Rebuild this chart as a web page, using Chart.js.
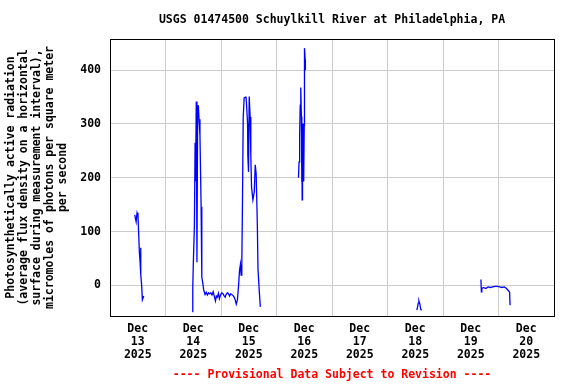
<!DOCTYPE html>
<html lang="en">

<head>
    <meta charset="UTF-8">
    <title>USGS 01474500 Schuylkill River at Philadelphia, PA</title>
    <script src="https://cdn.jsdelivr.net/npm/chart.js"></script>
    <style>
        html, body { margin: 0; padding: 0; background: #fff; }
        #wrap { width: 576px; height: 384px; }
    </style>
</head>

<body>
    <div id="wrap">
        <canvas id="grafico"></canvas>
    </div>

<script>

    // hours since Dec 13 2025 00:00, and PAR values
    var seg1Hours = [10.7, 11.0, 11.3, 11.7, 12.1, 12.7, 13.0, 13.2, 13.4, 13.7, 14.0, 14.6];
    var seg1Values = [131, 124, 118, 135, 130, 62, 44, 70, 20, -1, -27, -20];

    var seg2Hours = [35.6, 35.8, 36.0, 36.5, 36.8, 37.0, 37.3, 37.6, 37.9, 38.2, 38.5, 38.9, 39.4, 39.7,
        40.1, 40.5, 41.1, 41.6, 42.1, 42.6, 43.1, 43.6, 44.1, 44.6, 45.1, 45.6, 46.0, 46.4, 46.9,
        47.3, 47.8, 48.3, 48.8, 49.3, 49.8, 50.3, 50.8, 51.2, 51.7, 52.2, 52.7, 53.2, 53.7, 54.2,
        54.6, 55.1, 55.6, 56.0, 56.4, 56.7, 57.0, 57.3, 57.6, 58.0, 58.5, 58.8, 59.0, 59.5, 59.6,
        59.9, 60.2, 60.6, 60.9, 61.2, 61.8, 62.4, 62.8, 63.2, 63.7, 64.0, 64.5, 65.0];
    var seg2Values = [-49, -4, 36, 112, 265, 193, 342, 43, 320, 335, 309, 278, 146, 15,
        5, -8, -17, -13, -18, -14, -16, -14, -18, -12, -20, -29, -20, -22, -15,
        -25, -18, -14, -15, -19, -22, -16, -14, -15, -20, -16, -17, -19, -22, -28,
        -35, -27, 0, 27, 39, 19, 39, 160, 311, 348, 350, 351, 340, 300, 241,
        211, 351, 313, 241, 183, 159, 174, 224, 208, 116, 30, -7, -40];

    var seg3Hours = [81.5, 81.75, 82.0, 82.25, 82.5, 82.75, 82.9, 83.0, 83.1, 83.25, 83.5, 83.75, 84.0, 84.05, 84.15, 84.4, 84.5];
    var seg3Values = [200, 229, 278, 335, 368, 314, 192, 301, 159, 290, 301, 193, 298, 420, 441, 420, 400];

    var seg4Hours = [132.7, 133.0, 133.3, 133.6, 134.0, 134.4, 134.8];
    var seg4Values = [-46, -40, -33, -29, -35, -45, -46];

    var seg5Hours = [160.4, 160.6, 160.8, 161.5, 162.5, 163.5, 164.5, 165.5, 166.5, 167.5, 168.5,
        169.5, 170.5, 171.5, 172.3, 172.8, 173.0];
    var seg5Values = [11, -12, -6, -4, -6, -3, -4, -3, -2, -2, -3, -4, -3, -6, -10, -13, -37];

    var diasLabels = ['13', '14', '15', '16', '17', '18', '19', '20'];
    var yTicks = [0, 100, 200, 300, 400];

    var tituloGrafico = 'USGS 01474500 Schuylkill River at Philadelphia, PA';
    var tituloEixoY = [
        'Photosynthetically active radiation',
        '(average flux density on a horizontal',
        'surface during measurement interval),',
        'micromoles of photons per square meter',
        'per second'
    ];
    var rodape = '---- Provisional Data Subject to Revision ----';

    var fonte = '"DejaVu Sans Mono", monospace';

    function montarPontos(horas, valores) {
        var pts = [];
        for (var i = 0; i < horas.length; i++) {
            pts.push({ x: horas[i], y: valores[i] });
        }
        return pts;
    }

    var segmentos = [
        montarPontos(seg1Hours, seg1Values),
        montarPontos(seg2Hours, seg2Values),
        montarPontos(seg3Hours, seg3Values),
        montarPontos(seg4Hours, seg4Values),
        montarPontos(seg5Hours, seg5Values)
    ];

    var datasets = segmentos.map(function (pts) {
        return {
            data: pts,
            borderColor: '#0000ff',
            borderWidth: 1.3,
            pointRadius: 0,
            tension: 0,
            fill: false
        };
    });

    // title, y axis title, footer and frame
    var textosExtras = {
        id: 'textosExtras',
        afterDraw: function (chart) {
            var ctx = chart.ctx;
            var area = chart.chartArea;
            var cx = (area.left + area.right) / 2;
            var cy = (area.top + area.bottom) / 2;

            ctx.save();
            ctx.strokeStyle = '#000';
            ctx.lineWidth = 1;
            ctx.strokeRect(Math.round(area.left) + 0.5, Math.round(area.top) + 0.5,
                Math.round(area.right - area.left), Math.round(area.bottom - area.top));

            ctx.font = 'bold 11.5px ' + fonte;
            ctx.fillStyle = '#000';
            ctx.textAlign = 'center';
            ctx.textBaseline = 'middle';
            ctx.fillText(tituloGrafico, cx, 20);

            ctx.fillStyle = '#ff0000';
            ctx.fillText(rodape, cx, 375);

            ctx.fillStyle = '#000';
            ctx.translate(0, cy);
            ctx.rotate(-Math.PI / 2);
            for (var i = 0; i < tituloEixoY.length; i++) {
                ctx.fillText(tituloEixoY[i], 0, 11 + i * 13);
            }
            ctx.restore();
        }
    };

    var ctx = document.getElementById('grafico').getContext('2d');
    var myChart = new Chart(ctx, {
        type: 'line',
        data: { datasets: datasets },
        options: {
            responsive: true,
            maintainAspectRatio: false,
            animation: false,
            layout: {
                padding: { left: 0, right: 22, top: 39, bottom: 0 }
            },
            plugins: {
                legend: { display: false },
                title: { display: false },
                tooltip: { enabled: false }
            },
            scales: {
                x: {
                    type: 'linear',
                    min: 0,
                    max: 192,
                    afterBuildTicks: function (scale) {
                        var t = [];
                        for (var h = 0; h <= 192; h += 12) t.push({ value: h });
                        scale.ticks = t;
                    },
                    afterFit: function (scale) { scale.height = 68; },
                    border: { display: false },
                    grid: {
                        drawTicks: false,
                        lineWidth: 1,
                        color: function (c) {
                            var v = c.tick ? c.tick.value : 0;
                            if (v > 0 && v < 192 && v % 24 === 0) return '#cccccc';
                            return 'rgba(0,0,0,0)';
                        }
                    },
                    ticks: {
                        autoSkip: false,
                        maxRotation: 0,
                        padding: 7,
                        color: '#000',
                        font: { family: fonte, size: 11.5, weight: 'bold', lineHeight: 1.13 },
                        callback: function (value) {
                            if (value % 24 === 12) {
                                return ['Dec', diasLabels[(value - 12) / 24], '2025'];
                            }
                            return '';
                        }
                    }
                },
                y: {
                    min: -57,
                    max: 458,
                    afterBuildTicks: function (scale) {
                        scale.ticks = yTicks.map(function (v) { return { value: v }; });
                    },
                    afterFit: function (scale) { scale.width = 110; },
                    border: { display: false },
                    grid: {
                        drawTicks: false,
                        color: '#cccccc',
                        lineWidth: 1
                    },
                    ticks: {
                        padding: 9,
                        color: '#000',
                        font: { family: fonte, size: 11.5, weight: 'bold' }
                    }
                }
            }
        },
        plugins: [textosExtras]
    });

</script>

</body>

</html>
